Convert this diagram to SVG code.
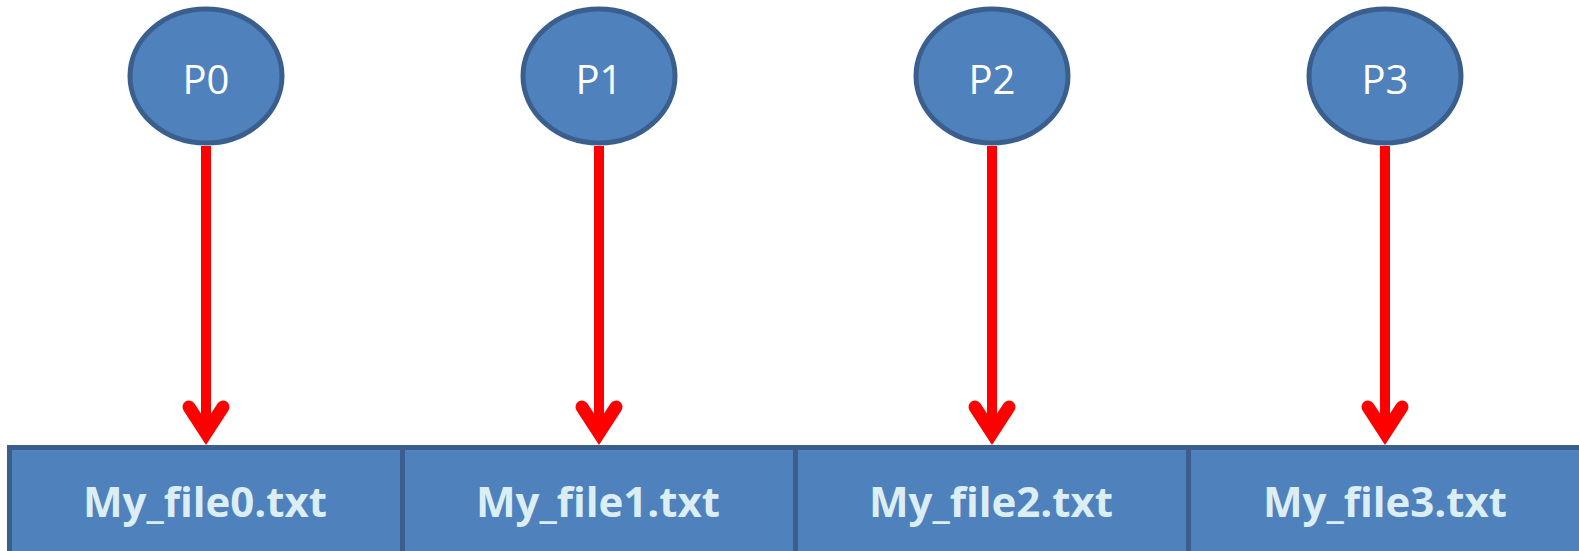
<svg xmlns="http://www.w3.org/2000/svg" width="1579" height="551" viewBox="0 0 1579 551">
<style>
.proc{fill:#4f81bd;stroke:#3b5f8d;stroke-width:5}
.cell{fill:#4f81bd;stroke:#3b5f8d;stroke-width:5}
.pl{font-family:"Open Sans","Liberation Sans",sans-serif;font-size:40px;fill:#ffffff;text-anchor:middle}
.fl{font-family:"Open Sans","Liberation Sans",sans-serif;font-size:42px;font-weight:bold;fill:#dbeef4;text-anchor:middle}
.shaft{stroke:#ff0000;stroke-width:10;fill:none}
.head{stroke:#ff0000;stroke-width:13;fill:none;stroke-linecap:round;stroke-linejoin:miter}
</style>
<rect width="1579" height="551" fill="#ffffff"/>
<g id="files">
<g id="file0"><rect class="cell" x="9.5" y="447.5" width="393" height="130"/><text class="fl" x="205" y="517">My_file0.txt</text></g>
<g id="file1"><rect class="cell" x="402.5" y="447.5" width="393" height="130"/><text class="fl" x="598" y="517">My_file1.txt</text></g>
<g id="file2"><rect class="cell" x="795.5" y="447.5" width="393" height="130"/><text class="fl" x="991" y="517">My_file2.txt</text></g>
<g id="file3"><rect class="cell" x="1188.5" y="447.5" width="420" height="130"/><text class="fl" x="1385" y="517">My_file3.txt</text></g>
</g>
<g id="connectors">
<path class="shaft" d="M206 146 V433"/>
<path class="head" d="M189 407 L206 433 L223 407"/>
<path class="shaft" d="M599 146 V433"/>
<path class="head" d="M582 407 L599 433 L616 407"/>
<path class="shaft" d="M992 146 V433"/>
<path class="head" d="M975 407 L992 433 L1009 407"/>
<path class="shaft" d="M1385 146 V433"/>
<path class="head" d="M1368 407 L1385 433 L1402 407"/>
</g>
<g id="P0"><ellipse class="proc" cx="206" cy="76" rx="76" ry="67"/><text class="pl" x="206" y="94">P0</text></g>
<g id="P1"><ellipse class="proc" cx="599" cy="76" rx="76" ry="67"/><text class="pl" x="599" y="94">P1</text></g>
<g id="P2"><ellipse class="proc" cx="992" cy="76" rx="76" ry="67"/><text class="pl" x="992" y="94">P2</text></g>
<g id="P3"><ellipse class="proc" cx="1385" cy="76" rx="76" ry="67"/><text class="pl" x="1385" y="94">P3</text></g>
</svg>
